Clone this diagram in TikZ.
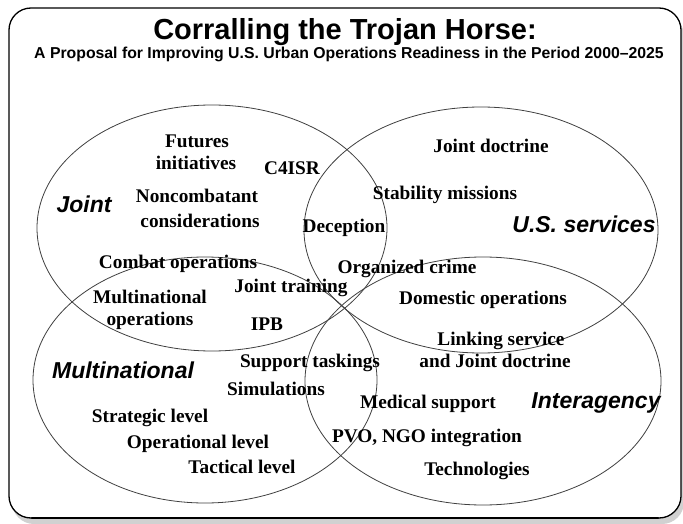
\documentclass[tikz,border=0pt]{standalone}
\usepackage{fontspec}
\setmainfont{Liberation Serif}
\setsansfont{Liberation Sans}
\begin{document}
\begin{tikzpicture}[x=1pt,y=-1pt,
  item/.style={font=\bfseries\fontsize{19.3}{23}\selectfont, anchor=base, inner sep=0pt},
  cat/.style={font=\sffamily\bfseries\itshape\fontsize{23}{27}\selectfont, anchor=base, inner sep=0pt},
  setline/.style={draw=black!75, line width=0.8pt},
  frame/.style={draw=black, line width=1.3pt, rounded corners=22pt, fill=white},
  shadow/.style={fill=black!18, rounded corners=22pt}]
\useasboundingbox (0,0) rectangle (683,524);
% shadow and frame
\fill[shadow] (12,14) rectangle (684,524);
\draw[frame] (9,8) rectangle (681,518);
\draw[line width=2.2pt, line cap=round] (32,518) -- (658,518);
% title
\node[font=\sffamily\bfseries\fontsize{29}{34}\selectfont, anchor=base, inner sep=0pt] (title) at (345,40) {Corralling the Trojan Horse:};
\node[font=\sffamily\bfseries\fontsize{15.8}{19}\selectfont, anchor=base, inner sep=0pt] (subtitle) at (349,59) {A Proposal for Improving U.S. Urban Operations Readiness in the Period 2000--2025};
% sets
\draw[setline] (212,228) ellipse [x radius=175pt, y radius=123pt];
\draw[setline] (481,230) ellipse [x radius=177pt, y radius=123pt];
\draw[setline] (205,380) ellipse [x radius=172pt, y radius=123pt];
\draw[setline] (483,381) ellipse [x radius=178pt, y radius=124pt];
% category labels
\node[cat] (joint) at (84,212) {Joint};
\node[cat] (usserv) at (584,232) {U.S. services};
\node[cat] (multi) at (123,378) {Multinational};
\node[cat] (inter) at (596,408) {Interagency};
% items
\node[item] (fut1) at (197,148) {Futures};
\node[item] (fut2) at (196,170) {initiatives};
\node[item] (c4isr) at (292,175) {C4ISR};
\node[item] (nonc1) at (197,203) {Noncombatant};
\node[item] (nonc2) at (200,227) {considerations};
\node[item] (decep) at (344,233) {Deception};
\node[item] (stab) at (445,200) {Stability missions};
\node[item] (jdoc) at (491,153) {Joint doctrine};
\node[item] (combat) at (178,268) {Combat operations};
\node[item] (orgcr) at (407,273) {Organized crime};
\node[item] (jtrain) at (291,292) {Joint training};
\node[item] (mno1) at (150,303) {Multinational};
\node[item] (mno2) at (150,325) {operations};
\node[item] (ipb) at (267,330) {IPB};
\node[item] (domest) at (483,304) {Domestic operations};
\node[item] (link1) at (501,345) {Linking service};
\node[item] (link2) at (495,367) {and Joint doctrine};
\node[item] (supp) at (310,367) {Support taskings};
\node[item] (simul) at (276,395) {Simulations};
\node[item] (medic) at (428,408) {Medical support};
\node[item] (strat) at (150,422) {Strategic level};
\node[item] (oper) at (198,448) {Operational level};
\node[item] (pvo) at (427,442) {PVO, NGO integration};
\node[item] (tact) at (242,473) {Tactical level};
\node[item] (tech) at (477,475) {Technologies};
\end{tikzpicture}
\end{document}
